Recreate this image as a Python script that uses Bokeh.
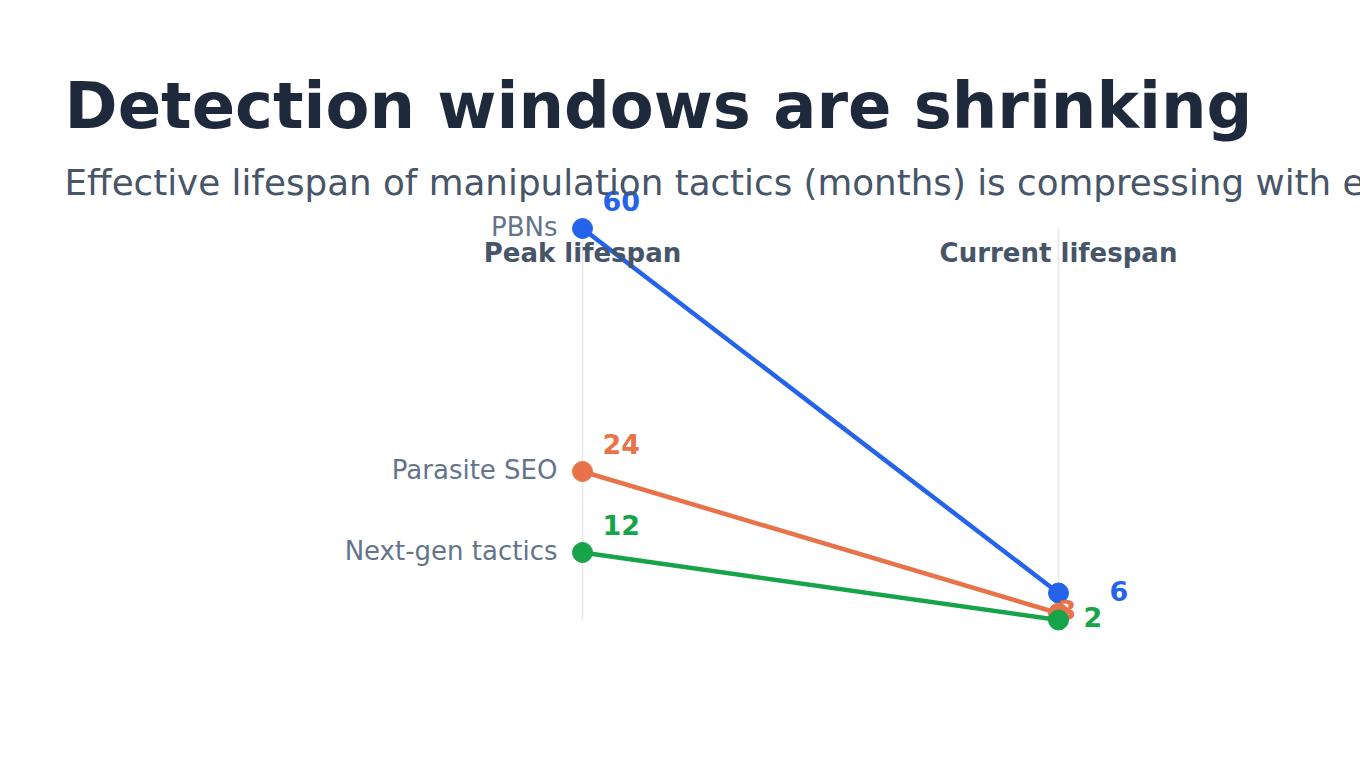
from bokeh.plotting import figure
from bokeh.models import Range1d, Label
from bokeh.embed import file_html
from bokeh.resources import INLINE
from bokeh.core.properties import value

# ---- data ----
title_text = "Detection windows are shrinking"
subtitle_text = "Effective lifespan of manipulation tactics (months) is compressing with each algorithm update"
columns = ["Peak lifespan", "Current lifespan"]
categories = ["PBNs", "Parasite SEO", "Next-gen tactics"]
peak = [60, 24, 12]
current = [6, 3, 2]

# ---- styles ----
colors = ["#2563eb", "#e8734a", "#16a34a"]
right_dx = [51, -1, 25]
right_dy = [-2, -3, -3]
FONT = "DejaVu Sans"

W, H = 1360, 764
X0, XS = 582, 476          # pixel of first column, pixels per column step
Y0, YS = 633, 6.75         # pixel of value 0, pixels per month
p = figure(width=W, height=H, output_backend="svg", toolbar_location=None,
           x_axis_location=None, y_axis_location=None,
           x_range=Range1d(-X0 / XS, (W - X0) / XS),
           y_range=Range1d((Y0 - H) / YS, Y0 / YS),
           min_border=0, min_border_left=0, min_border_right=0,
           min_border_top=0, min_border_bottom=0)
p.grid.visible = False
p.outline_line_color = None
p.background_fill_color = "white"
p.border_fill_color = "white"

xs = list(range(len(columns)))
allv = peak + current
p.segment(x0=xs, y0=[min(allv)] * len(xs), x1=xs, y1=[max(allv)] * len(xs),
          line_color="#e5e7eb", line_width=1.5)

for i, cat in enumerate(categories):
    c = colors[i]
    p.line(x=xs, y=[peak[i], current[i]], line_color=c, line_width=4.5)
    p.scatter(x=xs, y=[peak[i], current[i]], size=20, fill_color=c, line_color=c)
    p.text(x=[0], y=[peak[i]], text=[cat], x_offset=-25, y_offset=-1.5, text_align="right",
           text_baseline="middle", text_font=value(FONT), text_font_size="26px",
           text_color="#64748b")
    p.text(x=[0], y=[peak[i]], text=[str(peak[i])], x_offset=20, y_offset=-27.5,
           text_align="left", text_baseline="middle", text_font=value(FONT),
           text_font_size="27px", text_font_style="bold", text_color=c)
    p.text(x=[1], y=[current[i]], text=[str(current[i])], x_offset=right_dx[i],
           y_offset=right_dy[i], text_align="left", text_baseline="middle",
           text_font=value(FONT), text_font_size="27px", text_font_style="bold",
           text_color=c)

for j, col in enumerate(columns):
    p.add_layout(Label(x=xs[j], y=H - 252, x_units="data", y_units="screen",
                       text=col, text_align="center", text_baseline="middle",
                       text_font=FONT, text_font_size="26px", text_font_style="bold",
                       text_color="#475569"))

p.add_layout(Label(x=64, y=H - 105, x_units="screen", y_units="screen",
                   text=title_text, text_align="left", text_baseline="alphabetic",
                   text_font=FONT, text_font_size="64px", text_font_style="bold",
                   text_color="#1e293b"))
p.add_layout(Label(x=64, y=H - 182, x_units="screen", y_units="screen",
                   text=subtitle_text, text_align="left", text_baseline="alphabetic",
                   text_font=FONT, text_font_size="35.7px", text_color="#475569"))

open("out.html", "w").write(file_html(p, INLINE))
